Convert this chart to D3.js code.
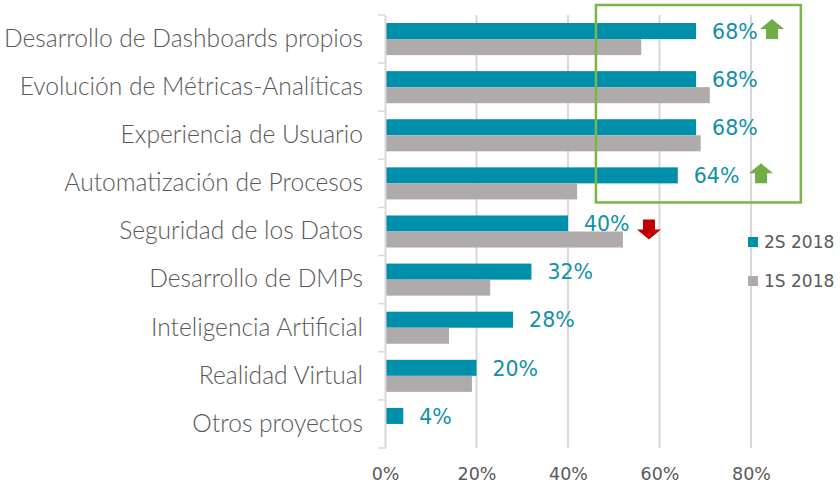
<!DOCTYPE html>
<meta charset="utf-8">
<head>
    <script src="https://cdnjs.cloudflare.com/ajax/libs/d3/7.8.5/d3.min.js"></script>
    <style>
        body { margin: 0; background: #fff; }
        text { font-family: Lato, "Noto Sans", sans-serif; }
        .num { font-family: "DejaVu Sans", sans-serif; }
    </style>
</head>
<body>
    <svg width="840" height="484"></svg>
    <script>
        // data
        var categories = ["Desarrollo de Dashboards propios", "Evolución de Métricas-Analíticas",
            "Experiencia de Usuario", "Automatización de Procesos", "Seguridad de los Datos",
            "Desarrollo de DMPs", "Inteligencia Artificial", "Realidad Virtual", "Otros proyectos"];
        var series = ["2S 2018", "1S 2018"];
        var values2S = [68, 68, 68, 64, 40, 32, 28, 20, 4];
        var values1S = [56, 71, 69, 42, 52, 23, 14, 19, 0];
        var xTicks = [0, 20, 40, 60, 80];
        // trend arrows: category, direction, x position (%)
        var arrows = [
            { cat: "Desarrollo de Dashboards propios", dir: "up", at: 84.6 },
            { cat: "Automatización de Procesos", dir: "up", at: 82.2 },
            { cat: "Seguridad de los Datos", dir: "down", at: 57.7 }
        ];

        var colors = { "2S 2018": "#008fab", "1S 2018": "#afabab" };

        var svg = d3.select("svg");
        var margin = { top: 15, left: 385 };
        var width = 366, height = 433;

        var g = svg.append("g")
            .attr("transform", "translate(" + margin.left + "," + margin.top + ")");

        var x = d3.scaleLinear().domain([0, 80]).range([0, width]);
        var y0 = d3.scaleBand().domain(categories).range([0, height]);
        var y1 = d3.scaleBand().domain(series).range([0, y0.bandwidth()]).paddingOuter(0.5);

        var rows = categories.map(function (c, i) {
            return { cat: c, "2S 2018": values2S[i], "1S 2018": values1S[i] };
        });

        // gridlines
        g.selectAll(".grid")
            .data(xTicks.slice(1))
            .enter().append("line")
            .attr("x1", function (d) { return x(d); })
            .attr("x2", function (d) { return x(d); })
            .attr("y1", 0).attr("y2", height)
            .attr("stroke", "#d9d9d9").attr("stroke-width", 2);

        // bars
        var groups = g.selectAll(".row")
            .data(rows)
            .enter().append("g")
            .attr("transform", function (d) { return "translate(0," + y0(d.cat) + ")"; });

        groups.selectAll("rect")
            .data(function (d) { return series.map(function (s) { return { s: s, v: d[s] }; }); })
            .enter().append("rect")
            .attr("x", 0)
            .attr("y", function (d) { return y1(d.s); })
            .attr("width", function (d) { return x(d.v); })
            .attr("height", y1.bandwidth())
            .attr("fill", function (d) { return colors[d.s]; });

        // value labels
        groups.append("text")
            .attr("class", "num")
            .attr("x", function (d) { return x(d["2S 2018"]) + 16; })
            .attr("y", y1("2S 2018") + y1.bandwidth() / 2)
            .attr("dy", "0.38em")
            .attr("fill", "#1190ab")
            .style("font-size", "20.5px")
            .text(function (d) { return d["2S 2018"] + "%"; });

        // y axis
        var yAxis = g.append("g")
            .call(d3.axisLeft(y0).tickSize(0).tickPadding(22));
        yAxis.select(".domain").attr("stroke", "#d9d9d9").attr("stroke-width", 2);
        yAxis.selectAll("text").attr("fill", "#595959")
            .style("font-size", "24.6px").style("font-weight", 300);
        g.selectAll(".ytick")
            .data(categories.concat([null]))
            .enter().append("line")
            .attr("x1", -7).attr("x2", 0)
            .attr("y1", function (d, i) { return i * y0.step(); })
            .attr("y2", function (d, i) { return i * y0.step(); })
            .attr("stroke", "#d9d9d9").attr("stroke-width", 1.5);

        // x axis labels
        var xAxis = g.append("g")
            .attr("transform", "translate(0," + height + ")")
            .call(d3.axisBottom(x).tickValues(xTicks).tickSize(0).tickPadding(20)
                .tickFormat(function (d) { return d + "%"; }));
        xAxis.select(".domain").remove();
        xAxis.selectAll("text").attr("class", "num").attr("fill", "#595959").style("font-size", "17.5px");

        // green highlight box
        g.append("rect")
            .attr("x", x(46.1))
            .attr("y", -10)
            .attr("width", x(90.9) - x(46.1))
            .attr("height", y0("Seguridad de los Datos") - 5 + 10)
            .attr("fill", "none")
            .attr("stroke", "#7ab648")
            .attr("stroke-width", 2.5);

        // arrows
        function arrowPath(dir) {
            // head 24 wide, 10 tall; shaft 12 wide, 10 tall
            var p = [[0, -10], [12, 0], [6, 0], [6, 10], [-6, 10], [-6, 0], [-12, 0]];
            if (dir === "down") p = p.map(function (q) { return [q[0], -q[1]]; });
            return "M" + p.map(function (q) { return q.join(","); }).join("L") + "Z";
        }
        g.selectAll(".arrow")
            .data(arrows)
            .enter().append("path")
            .attr("transform", function (d) {
                var cy = y0(d.cat) + y1("2S 2018") + y1.bandwidth() / 2 + (d.dir === "down" ? 6 : -2);
                return "translate(" + x(d.at) + "," + cy + ")";
            })
            .attr("d", function (d) { return arrowPath(d.dir); })
            .attr("fill", function (d) { return d.dir === "up" ? "#70ad47" : "#c00000"; });

        // legend
        var legend = svg.append("g").attr("transform", "translate(748,237)");
        var li = legend.selectAll("g")
            .data(series)
            .enter().append("g")
            .attr("transform", function (d, i) { return "translate(0," + i * 39 + ")"; });
        li.append("rect").attr("width", 10).attr("height", 10)
            .attr("fill", function (d) { return colors[d]; });
        li.append("text").attr("class", "num").attr("x", 16).attr("y", 5).attr("dy", "0.36em")
            .attr("fill", "#595959").style("font-size", "17px")
            .text(function (d) { return d; });
    </script>
</body>
